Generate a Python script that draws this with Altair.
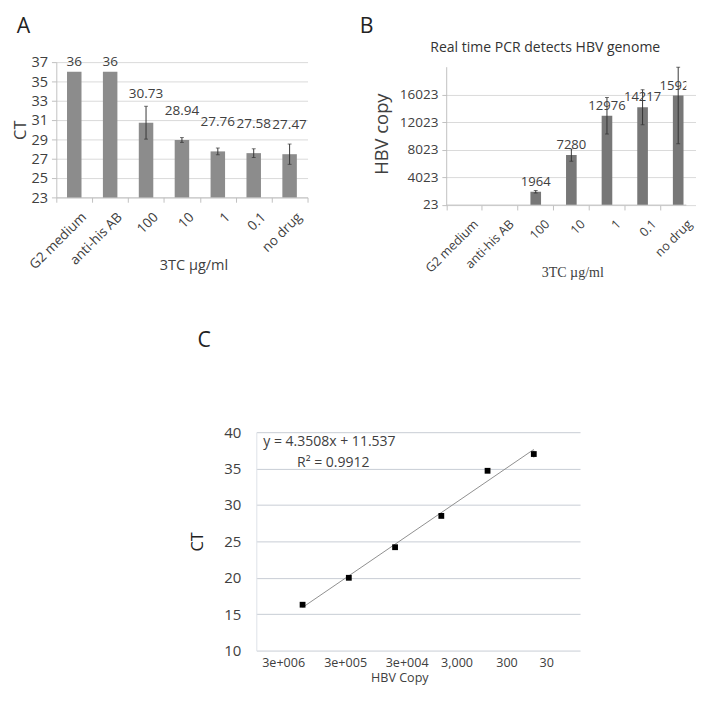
import altair as alt
import pandas as pd

# ---------------- data ----------------
categories = ["G2 medium", "anti-his AB", "100", "10", "1", "0.1", "no drug"]

# Panel A: CT values
a_ct = [36, 36, 30.73, 28.94, 27.76, 27.58, 27.47]
a_err = [0, 0, 1.7, 0.25, 0.35, 0.45, 1.05]
a_labels = ["36", "36", "30.73", "28.94", "27.76", "27.58", "27.47"]
a_ticks = [23, 25, 27, 29, 31, 33, 35, 37]

# Panel B: HBV copies
b_copy = [None, None, 1964, 7280, 12976, 14217, 15923]
b_err = [0, 0, 180, 900, 2650, 2550, 7000]
b_labels = ["", "", "1964", "7280", "12976", "14217", "15923"]
b_ticks = [23, 4023, 8023, 12023, 16023]
b_axis_top = 20023

# Panel C: standard curve
c_x = [1, 2, 3, 4, 5, 6]
c_ct = [16.3, 20.0, 24.2, 28.5, 34.7, 37.0]
c_err = [0.15, 0.1, 0.2, 0.15, 0.2, 0.45]
c_tick_labels = ["3e+006", "3e+005", "3e+004", "3,000", "300", "30"]
c_tick_pos = [0.58, 1.92, 3.25, 4.33, 5.41, 6.27]
c_yticks = [10, 15, 20, 25, 30, 35, 40]
eq_text = ["y = 4.3508x + 11.537", "R² = 0.9912"]
eq_x = [0.15, 0.88]
eq_y = [38.7, 35.75]

FONT = "Open Sans"
TXT = "#404040"
AXC = "#bfbfbf"
GRID = "#d9d9d9"

# ---------------- panel A ----------------
dfa = pd.DataFrame({"cat": categories, "ct": a_ct, "err": a_err, "lab": a_labels})

xa = alt.X("cat:N", sort=categories,
           scale=alt.Scale(domain=categories, paddingInner=0, paddingOuter=0),
           axis=alt.Axis(title="3TC µg/ml", labelAngle=-45, labelAlign="right",
                         labelBaseline="top", labelFontSize=14, labelColor=TXT,
                         labelPadding=8, labelOffset=5, tickBand="extent", tickSize=5,
                         tickColor=AXC, domainColor=AXC, grid=False, labelOverlap=False,
                         titleFontSize=15, titleFontWeight="normal", titleColor=TXT,
                         titleX=142, titleY=70, titleAlign="center", titleBaseline="middle"))
ya = alt.Y("ct:Q", scale=alt.Scale(domain=[23, 37], zero=False, nice=False),
           axis=alt.Axis(title="CT", values=a_ticks, tickCount=20, format="d", grid=True,
                         gridColor=GRID, domainColor=AXC, tickColor=AXC, tickSize=5,
                         labelFontSize=15, labelColor=TXT, labelPadding=4, labelFlush=False,
                         labelOverlap=False, titleFontSize=17, titleFontWeight="normal",
                         titleColor=TXT, titlePadding=2))

a_base = alt.Chart(dfa)
a_bars = a_base.mark_bar(size=15, color="#8c8c8c").encode(x=xa, y=ya, y2=alt.datum(23))
a_err_rule = a_base.transform_filter("datum.err > 0").transform_calculate(
    lo="datum.ct - datum.err", hi="datum.ct + datum.err"
).mark_rule(color="#333333", strokeWidth=1).encode(x="cat:N", y="lo:Q", y2="hi:Q")
a_caps = a_base.transform_filter("datum.err > 0").transform_calculate(
    lo="datum.ct - datum.err", hi="datum.ct + datum.err"
).transform_fold(["lo", "hi"]).mark_tick(color="#333333", size=4, thickness=1).encode(
    x="cat:N", y="value:Q")
a_text = a_base.transform_calculate(ly="min(datum.ct + 3.0, 37)").mark_text(
    fontSize=14, color=TXT, baseline="middle").encode(x="cat:N", y="ly:Q", text="lab:N")

a_chart = alt.layer(a_bars, a_err_rule, a_caps, a_text).properties(
    width=260, height=140,
    title=alt.Title("A", anchor="start", frame="group", fontSize=22, fontWeight="normal",
                    color="#222222", dx=-41, offset=18))

# ---------------- panel B ----------------
dfb = pd.DataFrame({"cat": categories, "copy": b_copy, "err": b_err, "lab": b_labels})

xb = alt.X("cat:N", sort=categories,
           scale=alt.Scale(domain=categories, range=[0, 258], paddingInner=0, paddingOuter=0),
           axis=alt.Axis(title="3TC µg/ml", titleFont="Liberation Serif", titleFontSize=14.5,
                         titleFontWeight="normal", titleColor=TXT,
                         titleX=130, titleY=70, titleAlign="center", titleBaseline="middle",
                         labelAngle=-45, labelAlign="right", labelBaseline="top",
                         labelFontSize=13, labelColor=TXT, labelPadding=8, labelOffset=8,
                         labelOverlap=False,
                         bandPosition=0, tickExtra=False, tickSize=5, tickColor=AXC,
                         domain=False, grid=False))
yb = alt.Y("copy:Q", scale=alt.Scale(domain=[23, 20760], zero=False, nice=False),
           axis=alt.Axis(title="HBV copy", values=b_ticks, tickCount=20, format="d", grid=True,
                         gridColor=GRID, domain=False, tickColor=AXC, tickSize=5,
                         labelFontSize=14, labelColor=TXT, labelPadding=4, labelFlush=False,
                         labelOverlap=False, titleFontSize=19, titleFontWeight="normal",
                         titleColor=TXT, titlePadding=8))

b_base = alt.Chart(dfb)
b_xline = alt.Chart(pd.DataFrame({"v": [23]})).mark_rule(color=AXC).encode(
    y=alt.Y("v:Q"))
b_yline = alt.Chart(pd.DataFrame({"v": [23], "v2": [b_axis_top]})).mark_rule(color=AXC).encode(
    x=alt.value(0), y=alt.Y("v:Q"), y2="v2:Q")
b_bars = b_base.mark_bar(size=11, color="#777777", clip=True).encode(
    x=xb, y=yb, y2=alt.datum(23))
b_err_rule = b_base.transform_filter("datum.err > 0").transform_calculate(
    lo="datum.copy - datum.err", hi="min(datum.copy + datum.err, %d)" % b_axis_top
).mark_rule(color="#333333", strokeWidth=1, clip=True).encode(x="cat:N", y="lo:Q", y2="hi:Q")
b_caps = b_base.transform_filter("datum.err > 0").transform_calculate(
    lo="datum.copy - datum.err", hi="min(datum.copy + datum.err, %d)" % b_axis_top
).transform_fold(["lo", "hi"]).mark_tick(color="#333333", size=4, thickness=1, clip=True).encode(
    x="cat:N", y="value:Q")
b_text = b_base.transform_filter("datum.err > 0").mark_text(
    fontSize=13.5, color=TXT, baseline="bottom", dy=-3, clip=True).encode(
    x="cat:N", y="copy:Q", text="lab:N")

b_chart = alt.layer(b_yline, b_bars, b_err_rule, b_caps, b_text, b_xline).properties(
    width=248, height=148,
    title=alt.Title("Real time PCR detects HBV genome", anchor="middle", frame="group",
                    fontSize=14.5, fontWeight="normal", color="#333333", dx=-22, offset=7))
b_wrap = alt.vconcat(b_chart, bounds="flush",
                     title=alt.Title("B", anchor="start", frame="group", fontSize=22,
                                     fontWeight="normal", color="#222222", dx=-90, offset=3))

# ---------------- panel C ----------------
dfc = pd.DataFrame({"x": c_x, "ct": c_ct, "err": c_err})
dfe = pd.DataFrame({"x": eq_x, "y": eq_y, "t": eq_text})

label_expr = " : ".join(
    "datum.value == %s ? '%s'" % (p, l) for p, l in zip(c_tick_pos, c_tick_labels)) + " : ''"

xc = alt.X("x:Q", scale=alt.Scale(domain=[0, 7], nice=False, zero=False),
           axis=alt.Axis(values=c_tick_pos, tickCount=20, labelExpr=label_expr, grid=False,
                         ticks=False, domain=False, labelFontSize=13, labelColor=TXT,
                         labelPadding=6, labelFlush=False, labelOverlap=False,
                         title="HBV Copy", titleFontSize=13, titleFontWeight="normal",
                         titleColor=TXT, titlePadding=3, titleX=148, titleAlign="center"))
yc = alt.Y("ct:Q", scale=alt.Scale(domain=[10, 40], nice=False, zero=False),
           axis=alt.Axis(values=c_yticks, tickCount=20, grid=True, gridColor="#c6cbd3",
                         domainColor="#dde1e7", ticks=False, labelFontSize=15.5, labelColor=TXT,
                         labelPadding=16, labelFlush=False, labelOverlap=False, title="CT",
                         titleFontSize=17, titleFontWeight="normal", titleColor="#222222",
                         titlePadding=18))

c_base = alt.Chart(dfc)
c_line = c_base.transform_regression("x", "ct", extent=[1, 6]).mark_line(
    color="#8c8c8c", strokeWidth=1).encode(x=xc, y=yc)
c_err_rule = c_base.transform_calculate(
    lo="datum.ct - datum.err", hi="datum.ct + datum.err"
).mark_rule(color="#222222").encode(x="x:Q", y="lo:Q", y2="hi:Q")
c_pts = c_base.mark_square(size=36, color="#000000", opacity=1).encode(x="x:Q", y="ct:Q")
c_eq = alt.Chart(dfe).mark_text(align="left", baseline="middle", fontSize=14.5, color=TXT).encode(
    x="x:Q", y="y:Q", text="t:N")

c_chart = alt.layer(c_line, c_err_rule, c_pts, c_eq).properties(
    width=335, height=226,
    title=alt.Title("C", anchor="start", frame="group", fontSize=22, fontWeight="normal",
                    color="#222222", dx=-61, offset=76))

spacer = alt.Chart(pd.DataFrame({"s": [0]})).mark_point(opacity=0).properties(width=1, height=1)

top_row = alt.hconcat(a_chart, b_wrap, spacing=144, bounds="flush")
bottom_row = alt.hconcat(spacer, c_chart, spacing=206, bounds="flush")

chart = alt.vconcat(top_row, bottom_row, spacing=383, bounds="flush").properties(
    padding={"left": 3, "top": -5, "right": 0, "bottom": 0}
).configure(font=FONT).configure_view(stroke=None)

chart.save("out.html", embed_options={"renderer": "svg", "actions": False})
